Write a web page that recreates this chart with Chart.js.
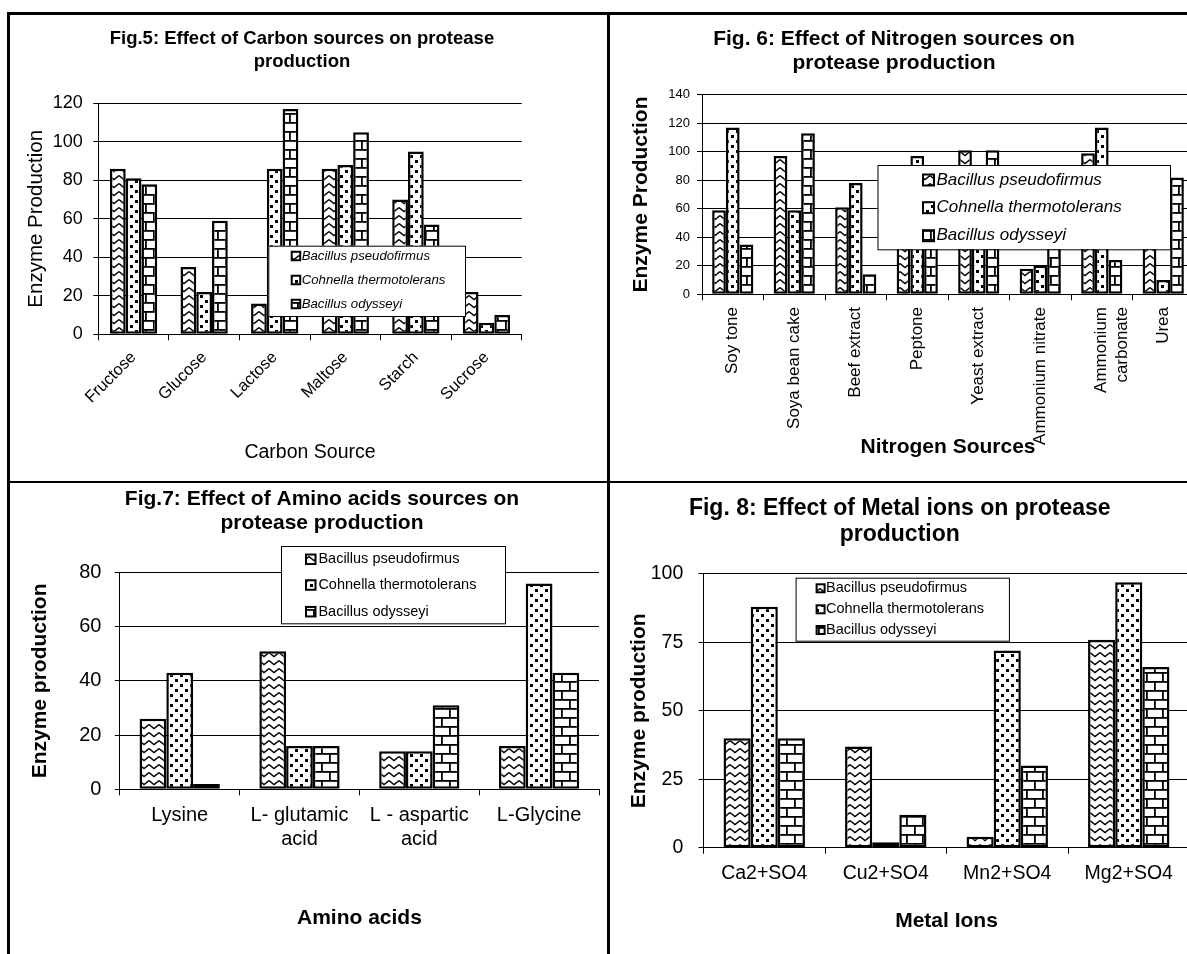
<!DOCTYPE html>
<html><head><meta charset="utf-8">
<script src="https://cdn.jsdelivr.net/npm/chart.js@4.4.0/dist/chart.umd.min.js"></script>
<style>
html,body{margin:0;padding:0;background:#fff;}
body{width:1187px;height:954px;overflow:hidden;position:relative;}
canvas{position:absolute;}
.ln{position:absolute;background:#000;z-index:5;}
</style></head><body>
<div class="ln" style="left:7px;top:12px;width:1180px;height:2.5px"></div>
<div class="ln" style="left:7px;top:12px;width:2.5px;height:942px"></div>
<div class="ln" style="left:607px;top:12px;width:2.5px;height:942px"></div>
<div class="ln" style="left:7px;top:480.5px;width:1180px;height:2.5px"></div>
<canvas id="c5" width="598" height="466" style="left:9px;top:14px"></canvas>
<canvas id="c6" width="600" height="466" style="left:610px;top:14px"></canvas>
<canvas id="c7" width="598" height="471" style="left:9px;top:483px"></canvas>
<canvas id="c8" width="600" height="471" style="left:610px;top:483px"></canvas>
<script>
// ---------- data ----------
const seriesNames = ['Bacillus pseudofirmus', 'Cohnella thermotolerans', 'Bacillus odysseyi'];

const carbonTitle = ['Fig.5: Effect of Carbon sources on protease', 'production'];
const carbonSources = ['Fructose', 'Glucose', 'Lactose', 'Maltose', 'Starch', 'Sucrose'];
const carbonPseudofirmus = [86, 35, 16, 86, 70, 22];
const carbonCohnella = [81, 22, 86, 88, 95, 6];
const carbonOdysseyi = [78, 59, 117, 105, 57, 10];

const nitrogenTitle = ['Fig. 6: Effect of Nitrogen sources on', 'protease production'];
const nitrogenSources = ['Soy tone', 'Soya bean cake', 'Beef extract', 'Peptone', 'Yeast extract', 'Ammonium nitrate', ['Ammonium', 'carbonate'], 'Urea'];
const nitrogenPseudofirmus = [59, 97, 61, 85, 101, 18, 99, 75];
const nitrogenCohnella = [117, 59, 78, 97, 88, 20, 117, 10];
const nitrogenOdysseyi = [35, 113, 14, 70, 101, 65, 24, 82];

const aminoTitle = ['Fig.7: Effect of Amino acids sources on', 'protease production'];
const aminoAcids = ['Lysine', ['L- glutamic', 'acid'], ['L - aspartic', 'acid'], 'L-Glycine'];
const aminoPseudofirmus = [26, 51, 14, 16];
const aminoCohnella = [43, 16, 14, 76];
const aminoOdysseyi = [2, 16, 31, 43];

const metalTitle = ['Fig. 8: Effect of Metal ions on protease', 'production'];
const metalIons = ['Ca2+SO4', 'Cu2+SO4', 'Mn2+SO4', 'Mg2+SO4'];
const metalPseudofirmus = [40, 37, 4, 76];
const metalCohnella = [88, 2, 72, 97];
const metalOdysseyi = [40, 12, 30, 66];

// ---------- styling helpers ----------
const FAM = '"Liberation Sans", Arial, sans-serif';

function tile(w, h, draw) {
  const c = document.createElement('canvas');
  c.width = w; c.height = h;
  const x = c.getContext('2d');
  x.fillStyle = '#fff'; x.fillRect(0, 0, w, h);
  x.fillStyle = '#000'; x.strokeStyle = '#000';
  draw(x);
  return c;
}
const ref = document.createElement('canvas').getContext('2d');
const zig = ref.createPattern(tile(10, 8, x => {
  x.lineWidth = 1.4; x.beginPath(); x.moveTo(0, 1.5); x.lineTo(5, 5.5); x.lineTo(10, 1.5); x.stroke();
}), 'repeat');
const dots = ref.createPattern(tile(10, 10, x => {
  x.fillRect(1, 1, 3, 3); x.fillRect(6, 6, 3, 3);
}), 'repeat');
const bricks = ref.createPattern(tile(16, 18, x => {
  x.fillRect(0, 0, 16, 1.8); x.fillRect(0, 9, 16, 1.8);
  x.fillRect(0, 0, 1.8, 9); x.fillRect(8, 9, 1.8, 9);
}), 'repeat');
const patterns = [zig, dots, bricks];

const titleShift = {
  id: 'titleShift',
  afterLayout(chart, args, o) {
    const tb = chart.titleBlock;
    if (tb && o.dx) { tb.left += o.dx; tb.right += o.dx; }
  }
};
const boxLegend = {
  id: 'boxLegend',
  afterDraw(chart, args, o) {
    const ctx = chart.ctx;
    ctx.save();
    ctx.fillStyle = '#fff'; ctx.fillRect(o.x, o.y, o.w, o.h);
    ctx.strokeStyle = '#000'; ctx.lineWidth = 1; ctx.strokeRect(o.x + 0.5, o.y + 0.5, o.w, o.h);
    ctx.font = (o.italic ? 'italic ' : '') + o.size + 'px ' + FAM;
    ctx.textBaseline = 'middle';
    chart.data.datasets.forEach((ds, i) => {
      const cy = o.rows[i];
      ctx.fillStyle = ds.backgroundColor;
      ctx.fillRect(o.mx, cy - o.ms / 2, o.ms, o.ms);
      ctx.lineWidth = 2; ctx.strokeStyle = '#000';
      ctx.strokeRect(o.mx, cy - o.ms / 2, o.ms, o.ms);
      ctx.fillStyle = '#000';
      ctx.fillText(ds.label, o.tx, cy);
    });
    ctx.restore();
  }
};

function makeChart(id, c) {
  return new Chart(document.getElementById(id), {
    type: 'bar',
    data: {
      labels: c.labels,
      datasets: c.series.map((vals, i) => ({
        label: seriesNames[i], data: vals, backgroundColor: patterns[i],
        borderColor: '#000', borderWidth: 2.5, borderSkipped: false,
        categoryPercentage: 0.67, barPercentage: 1
      }))
    },
    options: {
      responsive: false, animation: false, devicePixelRatio: 1,
      layout: { padding: { left: 0, right: c.padR, top: 0, bottom: 0 } },
      plugins: {
        legend: { display: false }, tooltip: { enabled: false },
        title: {
          display: true, text: c.title, color: '#000',
          font: { family: FAM, size: c.titleSize, weight: 'bold', lineHeight: c.titleLH },
          padding: { top: c.titlePadTop, bottom: c.titlePadBottom }
        },
        titleShift: { dx: c.titleDx },
        boxLegend: c.legend
      },
      scales: {
        x: {
          grid: { display: true, drawOnChartArea: false, drawTicks: true, tickLength: 6, color: '#000', lineWidth: 1 },
          border: { color: '#000', width: 1 },
          ticks: { autoSkip: false, minRotation: c.rot, maxRotation: c.rot, padding: c.xTickPad, color: '#000', font: { family: FAM, size: c.xTickSize } },
          title: { display: true, text: c.xTitle, color: '#000', font: { family: FAM, size: c.xTitleSize, weight: c.xTitleWeight }, padding: { top: 0, bottom: c.xTitlePad } },
          afterFit: s => { s.height = c.xH; }
        },
        y: {
          min: 0, max: c.yMax,
          grid: { color: '#000', lineWidth: 1, tickLength: 5 },
          border: { color: '#000', width: 1 },
          ticks: { stepSize: c.yStep, padding: c.yTickPad, color: '#000', font: { family: FAM, size: c.yTickSize } },
          title: { display: true, text: 'Enzyme ' + c.yWord, color: '#000', font: { family: FAM, size: c.yTitleSize, weight: c.yTitleWeight }, padding: { top: c.yTitlePad, bottom: 0 } },
          afterFit: s => { s.width = c.yW; }
        }
      }
    },
    plugins: [titleShift, boxLegend]
  });
}

makeChart('c5', {
  labels: carbonSources, series: [carbonPseudofirmus, carbonCohnella, carbonOdysseyi],
  title: carbonTitle, titleSize: 18.5, titleLH: 1.243, titlePadTop: 13.5, titlePadBottom: 29.8, titleDx: 36.6,
  padR: 85.3, yMax: 120, yStep: 20, yW: 89.3, yTickSize: 18, yTickPad: 10.5,
  yWord: 'Production', yTitleSize: 20.5, yTitleWeight: 'normal', yTitlePad: 15.5,
  xH: 145.7, rot: 45, xTickSize: 16.5, xTickPad: 7.5,
  xTitle: 'Carbon Source', xTitleSize: 19.5, xTitleWeight: 'normal', xTitlePad: 15.3,
  legend: { x: 259.3, y: 231.7, w: 196.7, h: 70.3, rows: [242, 266, 290], mx: 282.7, ms: 8.5, tx: 292.7, size: 13.2, italic: true }
});

makeChart('c6', {
  labels: nitrogenSources, series: [nitrogenPseudofirmus, nitrogenCohnella, nitrogenOdysseyi],
  title: nitrogenTitle, titleSize: 21, titleLH: 1.14, titlePadTop: 13.3, titlePadBottom: 19.5, titleDx: -8,
  padR: 16, yMax: 140, yStep: 20, yW: 92, yTickSize: 13, yTickPad: 7,
  yWord: 'Production', yTitleSize: 21, yTitleWeight: 'bold', yTitlePad: 18.8,
  xH: 185.7, rot: 90, xTickSize: 17, xTickPad: 6.7,
  xTitle: 'Nitrogen Sources', xTitleSize: 21, xTitleWeight: 'bold', xTitlePad: 20,
  legend: { x: 267.5, y: 151, w: 292.5, h: 84.3, rows: [166, 193.7, 221.7], mx: 313, ms: 11, tx: 326.5, size: 17, italic: true }
});

makeChart('c7', {
  labels: aminoAcids, series: [aminoPseudofirmus, aminoCohnella, aminoOdysseyi],
  title: aminoTitle, titleSize: 21, titleLH: 1.14, titlePadTop: 4.3, titlePadBottom: 37.4, titleDx: 18,
  padR: 8, yMax: 80, yStep: 20, yW: 110.8, yTickSize: 20, yTickPad: 13.4,
  yWord: 'production', yTitleSize: 21, yTitleWeight: 'bold', yTitlePad: 18.6,
  xH: 164.7, rot: 0, xTickSize: 20, xTickPad: 8.3,
  xTitle: 'Amino acids', xTitleSize: 21, xTitleWeight: 'bold', xTitlePad: 23,
  legend: { x: 272, y: 63, w: 224, h: 77.3, rows: [76.3, 102, 128.7], mx: 297, ms: 9.5, tx: 309.4, size: 14.5, italic: false }
});

makeChart('c8', {
  labels: metalIons, series: [metalPseudofirmus, metalCohnella, metalOdysseyi],
  title: metalTitle, titleSize: 23, titleLH: 1.16, titlePadTop: 12, titlePadBottom: 25.6, titleDx: 0,
  padR: 20.5, yMax: 100, yStep: 25, yW: 93.5, yTickSize: 19.5, yTickPad: 15.2,
  yWord: 'production', yTitleSize: 21, yTitleWeight: 'bold', yTitlePad: 16.9,
  xH: 106.3, rot: 0, xTickSize: 19.5, xTickPad: 7.9,
  xTitle: 'Metal Ions', xTitleSize: 21, xTitleWeight: 'bold', xTitlePad: 19.7,
  legend: { x: 185.6, y: 94.7, w: 213.3, h: 63, rows: [105.3, 126.3, 147], mx: 206.6, ms: 8, tx: 216, size: 14.5, italic: false }
});
</script>
</body></html>
